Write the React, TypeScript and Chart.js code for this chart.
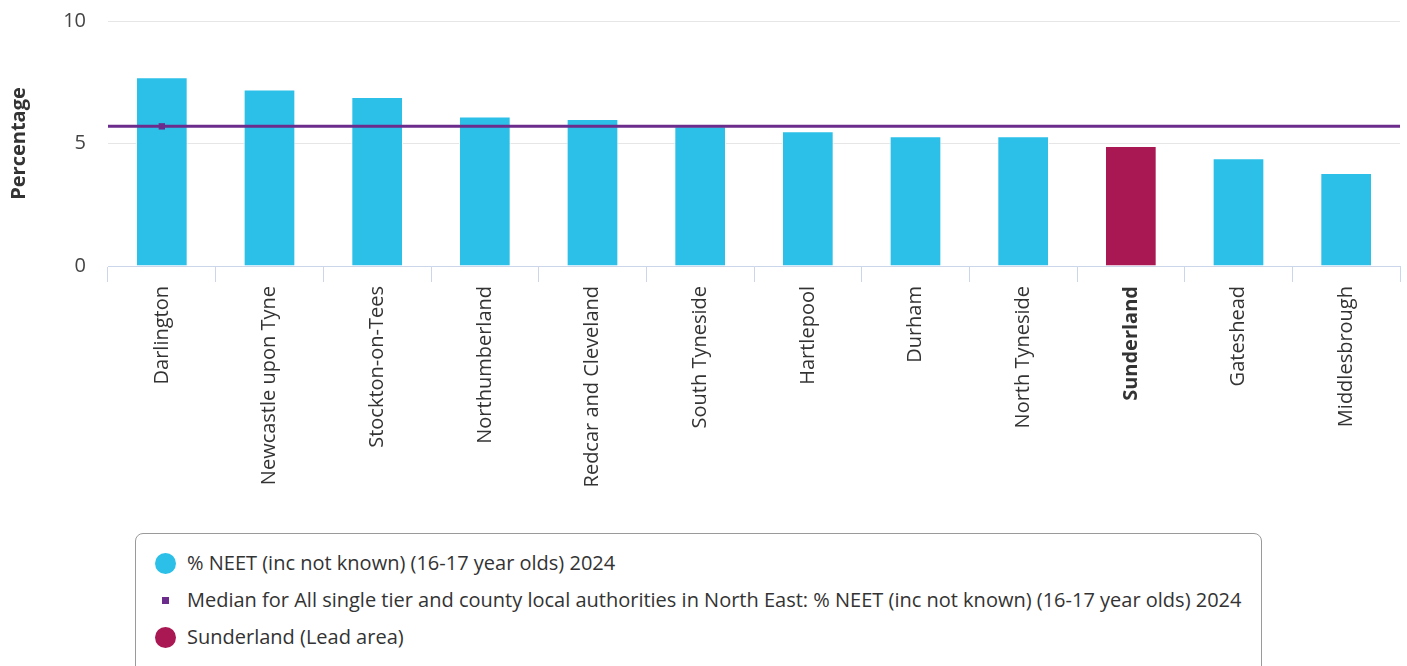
import React, { useEffect, useRef } from "react";
import { Chart, registerables } from "chart.js";

Chart.register(...registerables);

const categories = [
  "Darlington",
  "Newcastle upon Tyne",
  "Stockton-on-Tees",
  "Northumberland",
  "Redcar and Cleveland",
  "South Tyneside",
  "Hartlepool",
  "Durham",
  "North Tyneside",
  "Sunderland",
  "Gateshead",
  "Middlesbrough",
];
const neetValues = [7.7, 7.2, 6.9, 6.1, 6.0, 5.7, 5.5, 5.3, 5.3, 4.9, 4.4, 3.8];
const medianValue = 5.7;
const leadArea = "Sunderland";
const yTicks = [0, 5, 10];

const CYAN = "#2cc0e9";
const CRIMSON = "#a91853";
const PURPLE = "#6b2c8b";
const FONT = "'Open Sans', 'Noto Sans', sans-serif";

const legendItems = [
  { kind: "circle", color: CYAN, label: "% NEET (inc not known) (16-17 year olds) 2024" },
  {
    kind: "square",
    color: PURPLE,
    label:
      "Median for All single tier and county local authorities in North East: % NEET (inc not known) (16-17 year olds) 2024",
  },
  { kind: "circle", color: CRIMSON, label: "Sunderland (Lead area)" },
];

export default function App() {
  const ref = useRef<HTMLCanvasElement | null>(null);

  useEffect(() => {
    document.body.style.margin = "0";
    const canvas = ref.current;
    if (!canvas) return;
    const n = categories.length;
    const medianPoints = [
      { x: -0.5, y: medianValue },
      { x: 0, y: medianValue },
      { x: n - 0.5, y: medianValue },
    ];
    const chart = new Chart(canvas, {
      type: "bar",
      data: {
        labels: categories,
        datasets: [
          {
            type: "line",
            label: "Median",
            data: medianPoints as any,
            xAxisID: "x2",
            borderColor: PURPLE,
            backgroundColor: PURPLE,
            borderWidth: 3,
            pointStyle: "rect",
            pointRadius: [0, 4.5, 0],
            pointHoverRadius: [0, 4.5, 0],
            pointBorderWidth: 0,
            order: 0,
          } as any,
          {
            type: "bar",
            label: "% NEET",
            data: neetValues,
            xAxisID: "x",
            grouped: false,
            backgroundColor: categories.map((c) => (c === leadArea ? CRIMSON : CYAN)),
            borderColor: "rgba(255,255,255,0.8)",
            borderWidth: 1,
            barPercentage: 0.48,
            categoryPercentage: 1,
            order: 1,
          } as any,
        ],
      },
      options: {
        animation: false,
        responsive: false,
        layout: { padding: { top: 21, right: 7, left: 0, bottom: 0 } },
        plugins: { legend: { display: false }, tooltip: { enabled: false } },
        scales: {
          x: {
            type: "category",
            offset: true,
            grid: {
              offset: true,
              drawOnChartArea: false,
              drawTicks: true,
              tickLength: 16,
              color: "#ccd6eb",
              lineWidth: 1,
            },
            border: { display: true, color: "#ccd6eb", width: 1 },
            ticks: {
              minRotation: 90,
              maxRotation: 90,
              autoSkip: false,
              padding: 4,
              color: "#333333",
              font: ((ctx: any) => ({
                family: FONT,
                size: 20,
                weight: categories[ctx.index] === leadArea ? "bold" : "normal",
              })) as any,
            },
            afterFit: (scale: any) => {
              scale.height = 254;
            },
          },
          x2: {
            type: "linear",
            display: false,
            offset: false,
            grid: { offset: false },
            min: -0.5,
            max: n - 0.5,
          } as any,
          y: {
            min: 0,
            max: 10,
            afterBuildTicks: (scale: any) => {
              scale.ticks = yTicks.map((v) => ({ value: v }));
            },
            grid: {
              color: "#e6e6e6",
              lineWidth: 1,
              drawTicks: true,
              tickLength: 22,
              tickColor: "rgba(0,0,0,0)",
            },
            border: { display: false },
            ticks: {
              padding: 0,
              color: "#444444",
              font: { family: FONT, size: 20 },
            },
            title: {
              display: true,
              text: "Percentage",
              color: "#333333",
              font: { family: FONT, size: 20, weight: "bold" },
              padding: { top: 7, bottom: 0 },
            },
            afterFit: (scale: any) => {
              scale.width = 108;
            },
          },
        },
      },
    });
    return () => chart.destroy();
  }, []);

  return (
    <div
      style={{
        position: "absolute",
        left: 0,
        top: 0,
        width: 1407,
        height: 666,
        overflow: "hidden",
        background: "#fff",
        fontFamily: FONT,
      }}
    >
      <canvas ref={ref} width={1407} height={520} style={{ position: "absolute", left: 0, top: 0 }} />
      <div
        style={{
          position: "absolute",
          left: 135,
          top: 533,
          width: 1127,
          height: 150,
          border: "1px solid #9a9a9a",
          borderRadius: 8,
          boxSizing: "border-box",
        }}
      >
        {legendItems.map((item, i) => (
          <div
            key={i}
            style={{
              position: "absolute",
              left: 0,
              top: 29 + i * 37 - 14,
              height: 28,
              whiteSpace: "nowrap",
            }}
          >
            <span
              style={{
                position: "absolute",
                left: item.kind === "circle" ? 19 : 26,
                top: item.kind === "circle" ? 4 : 11,
                width: item.kind === "circle" ? 21 : 7,
                height: item.kind === "circle" ? 21 : 7,
                borderRadius: item.kind === "circle" ? "50%" : 0,
                background: item.color,
              }}
            />
            <span
              style={{
                position: "absolute",
                left: 51,
                top: 0,
                lineHeight: "28px",
                fontSize: 20,
                color: "#333333",
              }}
            >
              {item.label}
            </span>
          </div>
        ))}
      </div>
    </div>
  );
}
